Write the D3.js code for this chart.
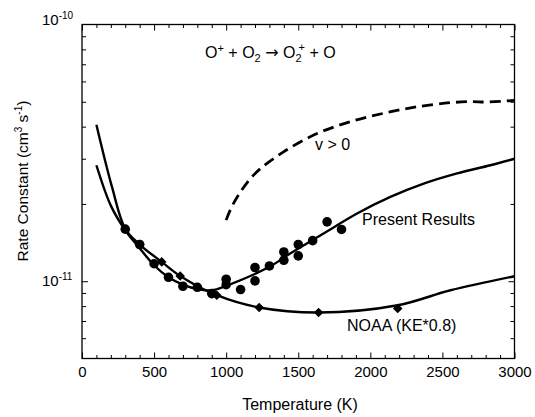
<!DOCTYPE html>
<html>
<head>
<meta charset="utf-8">
<script src="https://cdn.jsdelivr.net/npm/d3@7"></script>
<style>
  body { margin: 0; background: #fff; }
  text { font-family: "Liberation Sans", Arial, Helvetica, sans-serif; fill: #000; }
</style>
</head>
<body>
<script>
// values (T in K, k in cm^3 s^-1)
const presentCurveT = [100, 200, 300, 400, 500, 600, 700, 800, 900, 1000, 1300, 1444, 1676, 1908, 2139, 2370, 2602, 2833, 3000];
const presentCurveK = [2.83e-11, 1.97e-11, 1.58e-11, 1.345e-11, 1.154e-11, 1.036e-11, 9.69e-12, 9.31e-12, 9.22e-12, 9.6e-12, 1.138e-11, 1.282e-11, 1.535e-11, 1.836e-11, 2.13e-11, 2.40e-11, 2.63e-11, 2.83e-11, 3.0e-11];

const noaaCurveT = [100, 208, 300, 400, 553, 681, 935, 1229, 1641, 2190, 2556, 3000];
const noaaCurveK = [4.07e-11, 2.33e-11, 1.6e-11, 1.39e-11, 1.189e-11, 1.048e-11, 8.82e-12, 7.9e-12, 7.55e-12, 8.06e-12, 9.22e-12, 1.046e-11];

const vibCurveT = [1000, 1051, 1190, 1398, 1630, 1861, 2093, 2324, 2556, 2700, 2800, 3000];
const vibCurveK = [1.73e-11, 2.01e-11, 2.59e-11, 3.19e-11, 3.76e-11, 4.18e-11, 4.51e-11, 4.78e-11, 4.96e-11, 5.01e-11, 4.99e-11, 5.06e-11];

const presentPointsT = [300, 400, 500, 600, 700, 800, 900, 1000, 1000, 1100, 1200, 1200, 1300, 1400, 1400, 1500, 1500, 1600, 1700, 1800];
const presentPointsK = [1.595e-11, 1.39e-11, 1.17e-11, 1.036e-11, 9.56e-12, 9.47e-12, 8.95e-12, 1.018e-11, 9.69e-12, 9.28e-12, 1.131e-11, 1.003e-11, 1.147e-11, 1.30e-11, 1.207e-11, 1.39e-11, 1.255e-11, 1.439e-11, 1.703e-11, 1.591e-11];

const noaaPointsT = [400, 553, 681, 935, 1229, 1641, 2190];
const noaaPointsK = [1.39e-11, 1.189e-11, 1.048e-11, 8.82e-12, 7.9e-12, 7.55e-12, 7.83e-12];

const xMajorTicks = [0, 500, 1000, 1500, 2000, 2500, 3000];
const xMinorTicks = d3.range(100, 3000, 100).filter(t => t % 500 !== 0);
const yMajorTicks = [1e-11];
const yMinorTicks = [6e-12, 7e-12, 8e-12, 9e-12, 2e-11, 3e-11, 4e-11, 5e-11, 6e-11, 7e-11, 8e-11, 9e-11];

const W = 535, H = 417;
const margin = { top: 24.5, right: 20.5, bottom: 58.5, left: 82 };
const innerW = W - margin.left - margin.right;
const innerH = H - margin.top - margin.bottom;

const svg = d3.select('body').append('svg')
    .attr('width', W)
    .attr('height', H);

const g = svg.append('g')
    .attr('transform', `translate(${margin.left},${margin.top})`);

const x = d3.scaleLinear().domain([0, 3000]).range([0, innerW]);
const y = d3.scaleLog().domain([5e-12, 1e-10]).range([innerH, 0]);

// ticks, all pointing inward
function ticks(axis, values, size, transform) {
    const a = g.append('g')
        .attr('transform', transform || null)
        .call(axis.tickValues(values).tickSize(-size).tickFormat(''));
    a.select('.domain').remove();
    a.selectAll('line').attr('stroke', '#000').attr('stroke-width', 1);
    return a;
}
ticks(d3.axisBottom(x), xMinorTicks, 3.5, `translate(0,${innerH})`);
ticks(d3.axisBottom(x), xMajorTicks, 6, `translate(0,${innerH})`);
ticks(d3.axisTop(x), xMinorTicks, 3.5);
ticks(d3.axisTop(x), xMajorTicks, 6);
ticks(d3.axisLeft(y), yMinorTicks, 4);
ticks(d3.axisLeft(y), yMajorTicks, 6);
ticks(d3.axisRight(y), yMinorTicks, 4, `translate(${innerW},0)`);
ticks(d3.axisRight(y), yMajorTicks, 6, `translate(${innerW},0)`);

// x tick labels
const xLab = g.append('g')
    .attr('transform', `translate(0,${innerH})`)
    .call(d3.axisBottom(x).tickValues(xMajorTicks).tickSize(0).tickPadding(8).tickFormat(d3.format('d')));
xLab.select('.domain').remove();
xLab.selectAll('text')
    .attr('font-family', null)
    .style('font-size', '15px');

// y tick labels (powers of ten)
[[1e-10, '-10', 0], [1e-11, '-11', 5]].forEach(([v, exp, dy]) => {
    const t = g.append('text')
        .attr('x', 42 - margin.left)
        .attr('y', y(v) + dy)
        .style('font-size', '15px');
    t.append('tspan').text('10');
    t.append('tspan').attr('dy', -6).style('font-size', '10px').text(exp);
});

// frame
g.append('rect')
    .attr('width', innerW)
    .attr('height', innerH)
    .attr('fill', 'none')
    .attr('stroke', '#000')
    .attr('stroke-width', 1.3);

// curves
const line = d3.line()
    .x(d => x(d[0]))
    .y(d => y(d[1]))
    .curve(d3.curveCatmullRom);

g.append('path')
    .datum(d3.zip(presentCurveT, presentCurveK))
    .attr('d', line)
    .attr('fill', 'none')
    .attr('stroke', '#000')
    .attr('stroke-width', 2.4);

g.append('path')
    .datum(d3.zip(noaaCurveT, noaaCurveK))
    .attr('d', line)
    .attr('fill', 'none')
    .attr('stroke', '#000')
    .attr('stroke-width', 2.4);

g.append('path')
    .datum(d3.zip(vibCurveT, vibCurveK))
    .attr('d', line)
    .attr('fill', 'none')
    .attr('stroke', '#000')
    .attr('stroke-width', 2.8)
    .attr('stroke-dasharray', '11,6');

// markers
g.append('g')
    .selectAll('circle')
    .data(d3.zip(presentPointsT, presentPointsK))
    .join('circle')
    .attr('cx', d => x(d[0]))
    .attr('cy', d => y(d[1]))
    .attr('r', 4.8)
    .attr('fill', '#000');

g.append('g')
    .selectAll('path')
    .data(d3.zip(noaaPointsT, noaaPointsK))
    .join('path')
    .attr('d', d3.symbol(d3.symbolSquare, 46))
    .attr('transform', d => `translate(${x(d[0])},${y(d[1])}) rotate(45)`)
    .attr('fill', '#000');

// annotations
const title = g.append('text')
    .attr('x', 205 - margin.left)
    .attr('y', 58 - margin.top)
    .style('font-size', '16px');
title.append('tspan').text('O');
title.append('tspan').attr('dy', -6).style('font-size', '11px').text('+');
title.append('tspan').attr('dy', 6).text(' + O');
title.append('tspan').attr('dy', 4).style('font-size', '11px').text('2');
title.append('tspan').attr('dy', -4).text(' ');
title.append('tspan').style('font-family', '"DejaVu Sans"').text('\u2192');
title.append('tspan').text(' O');
title.append('tspan').attr('dy', 4).style('font-size', '11px').text('2');
title.append('tspan').attr('dy', -11).attr('dx', -3).style('font-size', '11px').text('+');
title.append('tspan').attr('dy', 7).text(' + O');

g.append('text')
    .attr('x', 315 - margin.left)
    .attr('y', 150 - margin.top)
    .style('font-size', '16px')
    .text('v > 0');

g.append('text')
    .attr('x', 362 - margin.left)
    .attr('y', 225 - margin.top)
    .style('font-size', '16px')
    .text('Present Results');

g.append('text')
    .attr('x', 347 - margin.left)
    .attr('y', 331 - margin.top)
    .style('font-size', '16px')
    .text('NOAA (KE*0.8)');

// axis titles
svg.append('text')
    .attr('x', 300)
    .attr('y', 410)
    .attr('text-anchor', 'middle')
    .style('font-size', '16px')
    .text('Temperature (K)');

const yTitle = svg.append('text')
    .attr('transform', 'translate(28,181) rotate(-90)')
    .attr('text-anchor', 'middle')
    .style('font-size', '15.5px');
yTitle.append('tspan').text('Rate Constant (cm');
yTitle.append('tspan').attr('dy', -6).style('font-size', '10px').text('3');
yTitle.append('tspan').attr('dy', 6).text(' s');
yTitle.append('tspan').attr('dy', -6).style('font-size', '10px').text('-1');
yTitle.append('tspan').attr('dy', 6).text(')');
</script>
</body>
</html>
